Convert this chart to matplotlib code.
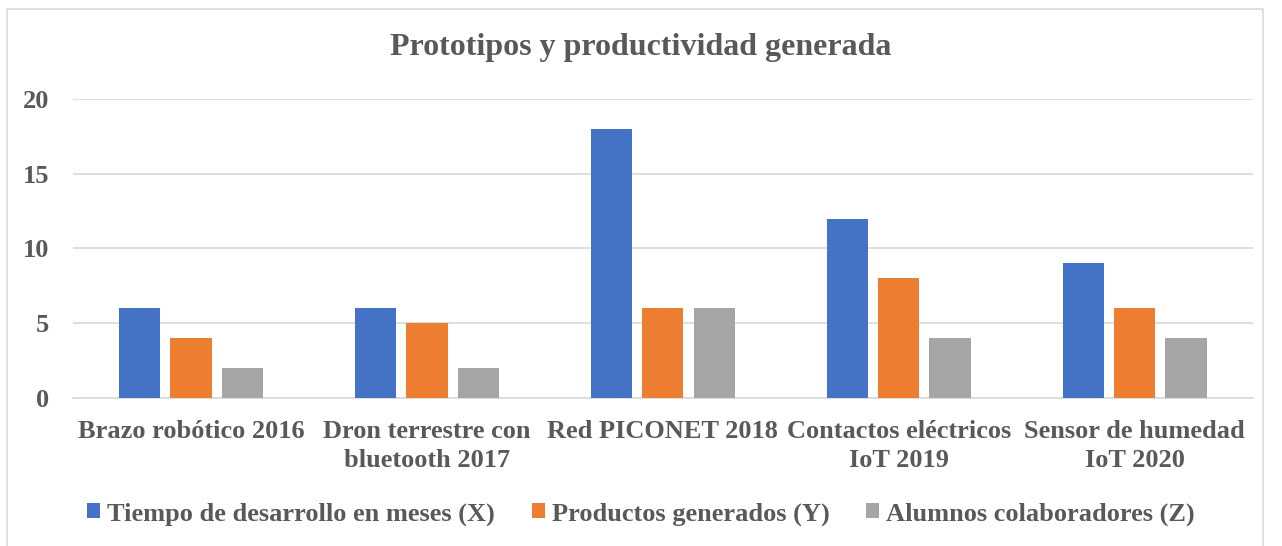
import numpy as np
import matplotlib
matplotlib.use("Agg")
from matplotlib import pyplot as plt
from matplotlib.patches import Rectangle

categorias = ["Brazo robótico 2016", "Dron terrestre con\nbluetooth 2017", "Red PICONET 2018",
              "Contactos eléctricos\nIoT 2019", "Sensor de humedad\nIoT 2020"]
tiempo = [6, 6, 18, 12, 9]
productos = [4, 5, 6, 8, 6]
alumnos = [2, 2, 6, 4, 4]
series = ["Tiempo de desarrollo en meses (X)", "Productos generados (Y)", "Alumnos colaboradores (Z)"]
colores = ["#4472C4", "#ED7D31", "#A5A5A5"]

plt.rcParams['font.family'] = ['Liberation Serif', 'DejaVu Serif']
plt.rcParams['font.weight'] = 'bold'
txt = "#595959"

fig = plt.figure(figsize=(12.82, 5.46), dpi=100)
ax = fig.add_axes([0.057, 0.271, 0.92, 0.548])

# marco del grafico
fig.patches.append(Rectangle((7 / 1282, -0.05), 1256 / 1282, 1.05 - 9 / 546, transform=fig.transFigure,
                             fill=False, edgecolor="#D9D9D9", linewidth=1.2))

x = np.arange(len(categorias))
w = 0.175
sep = 0.218
for i, (vals, nom, c) in enumerate(zip([tiempo, productos, alumnos], series, colores)):
    ax.bar(x + (i - 1) * sep, vals, w, color=c, label=nom, zorder=3)

ax.set_xlim(-0.5, len(categorias) - 0.5)
ax.set_ylim(0, 20)
ax.set_yticks([0, 5, 10, 15, 20])
ax.yaxis.grid(True, color="#D9D9D9", linewidth=1.2, zorder=0)
for s in ["top", "right", "left"]:
    ax.spines[s].set_visible(False)
ax.spines["bottom"].set_color("#D9D9D9")
ax.spines["bottom"].set_linewidth(1.2)
ax.tick_params(length=0, colors=txt, labelsize=19)
ax.tick_params(axis="y", pad=17)
ax.tick_params(axis="x", pad=16)
ax.set_xticks(x)
ax.set_xticklabels(categorias, linespacing=1.3)

fig.text(0.5, 1 - 48 / 546, "Prototipos y productividad generada", ha="center", va="center",
         fontsize=23, color=txt, fontweight="bold")

fig.legend(loc="center", bbox_to_anchor=(0.5, 1 - 514 / 546), ncol=3, frameon=False,
           prop={"size": 19, "weight": "bold"}, labelcolor=txt, handlelength=0.5, handleheight=0.5,
           handletextpad=0.25, columnspacing=1.4)

plt.savefig("out.png", dpi=100)
